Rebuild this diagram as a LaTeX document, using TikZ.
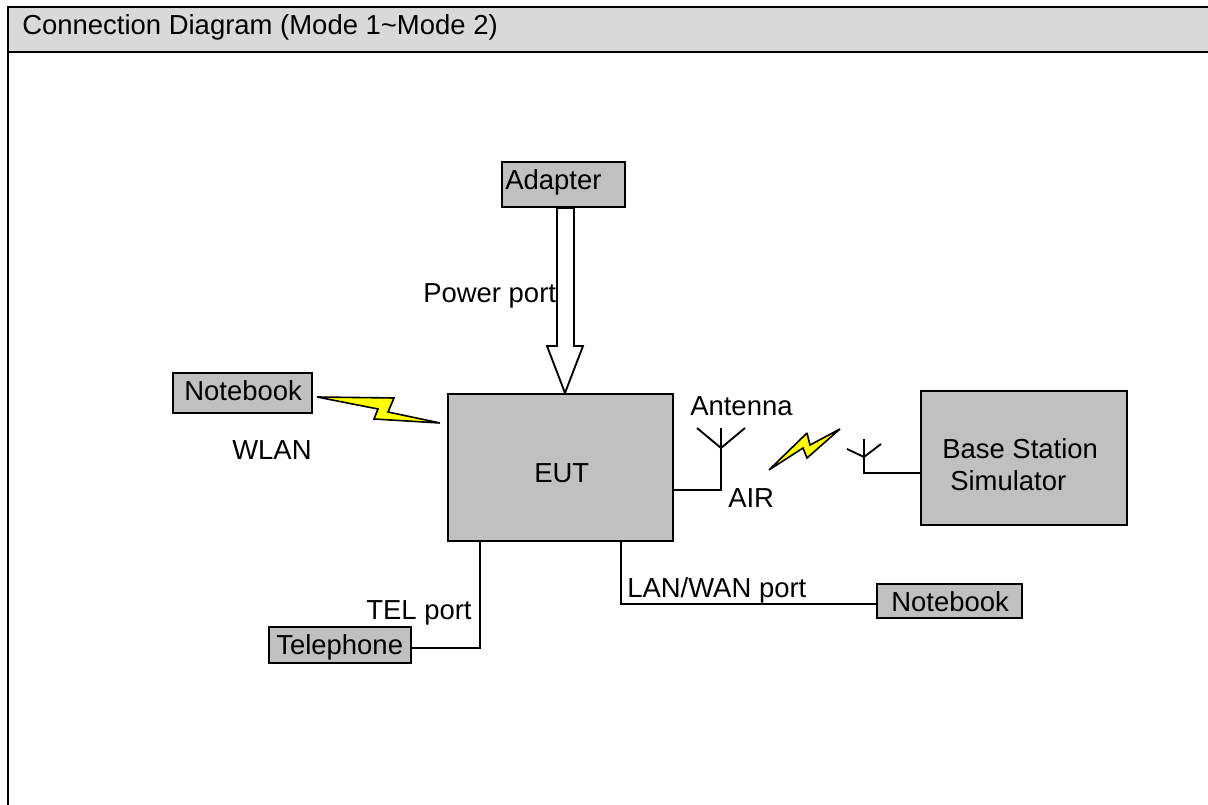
\documentclass[tikz,border=0pt]{standalone}
\usepackage{fontspec}
\setmainfont{Liberation Sans}
\definecolor{boxgray}{RGB}{192,192,192}
\definecolor{headgray}{RGB}{217,217,217}
\definecolor{boltyellow}{RGB}{255,255,0}
\tikzset{
  lbl/.style={inner sep=0pt,anchor=base west,font=\fontsize{20.6}{22}\selectfont,text=black},
  unit/.style={draw=black,line width=1.5pt,fill=boxgray,inner sep=0pt,outer sep=0pt,anchor=north west},
  wire/.style={draw=black,line width=1.4pt},
  bolt/.style={draw=black,line width=1.2pt,fill=boltyellow,line join=miter,miter limit=2},
  frameline/.style={draw=black,line width=1.6pt}
}
\begin{document}
\begin{tikzpicture}[x=0.75pt,y=-0.75pt]
\useasboundingbox (0,0) rectangle (1208,805);
\fill[white] (0,0) rectangle (1208,805);
\fill[headgray] (8,7) rectangle (1208,52);
\draw[frameline] (8,805) -- (8,7) -- (1208,7);
\draw[frameline] (8,52) -- (1208,52);
\node[lbl] (title) at (22,35) {Connection Diagram (Mode 1\textasciitilde Mode 2)};
% boxes
\node[unit,minimum width=92pt,minimum height=34pt] (adapter) at (502,162) {};
\node[lbl] (adaptert) at (505,190) {Adapter};
\node[unit,minimum width=168.75pt,minimum height=110.25pt] (eut) at (448,394) {};
\node[lbl] (eutt) at (534,483) {EUT};
\node[unit,minimum width=104pt,minimum height=30pt] (nb1) at (173,373) {};
\node[lbl] (nb1t) at (184,401) {Notebook};
\node[unit,minimum width=154.5pt,minimum height=100.5pt] (bss) at (921,391) {};
\node[lbl] (bss1) at (942,459) {Base Station};
\node[lbl] (bss2) at (950,491) {Simulator};
\node[unit,minimum width=108.75pt,minimum height=25.5pt] (nb2) at (877,584) {};
\node[lbl] (nb2t) at (891,612) {Notebook};
\node[unit,minimum width=106.5pt,minimum height=27pt] (tel) at (269,627) {};
\node[lbl] (telt) at (276,655) {Telephone};
% labels
\node[lbl] (pp) at (423,303) {Power port};
\node[lbl] (wlan) at (232,460) {WLAN};
\node[lbl] (ant) at (690,416) {Antenna};
\node[lbl] (air) at (728,508) {AIR};
\node[lbl] (tp) at (366,620) {TEL port};
\node[lbl] (lwp) at (627,598) {LAN/WAN port};
% power arrow
\draw[wire,fill=white] (557,208) -- (574,208) -- (574,346) -- (583,346) -- (565,393) -- (547,346) -- (557,346) -- cycle;
% coordinates
\coordinate (eutr) at (673,490);
\coordinate (ant1) at (721,490);
\coordinate (ant1a) at (721,448);
\coordinate (ant1l) at (697,428);
\coordinate (ant1r) at (745,428);
\coordinate (ant1t) at (721,428);
\coordinate (bssl) at (921,473);
\coordinate (ant2) at (864,473);
\coordinate (ant2a) at (864,457);
\coordinate (ant2l) at (847,449);
\coordinate (ant2r) at (881,444);
\coordinate (ant2t) at (864,439);
\coordinate (eutb1) at (480,541);
\coordinate (c1) at (480,648);
\coordinate (eutb2) at (621,541);
\coordinate (c2) at (621,604);
% wires
\draw[wire] (eutr) -- (ant1) -- (ant1t);
\draw[wire] (ant1l) -- (ant1a) -- (ant1r);
\draw[wire] (bssl) -- (ant2) -- (ant2t);
\draw[wire] (ant2l) -- (ant2a) -- (ant2r);
\draw[wire] (eutb1) -- (c1) -- (c1 -| tel.east);
\draw[wire] (eutb2) -- (c2) -- (c2 -| nb2.west);
% bolts
\draw[bolt] (317,397) -- (394,398) -- (388,412) -- (440,423) -- (374,419) -- (378,409) -- cycle;
\draw[bolt] (769,470) -- (807,433) -- (810,445) -- (840,429) -- (807,458) -- (803,448) -- cycle;
\end{tikzpicture}
\end{document}
